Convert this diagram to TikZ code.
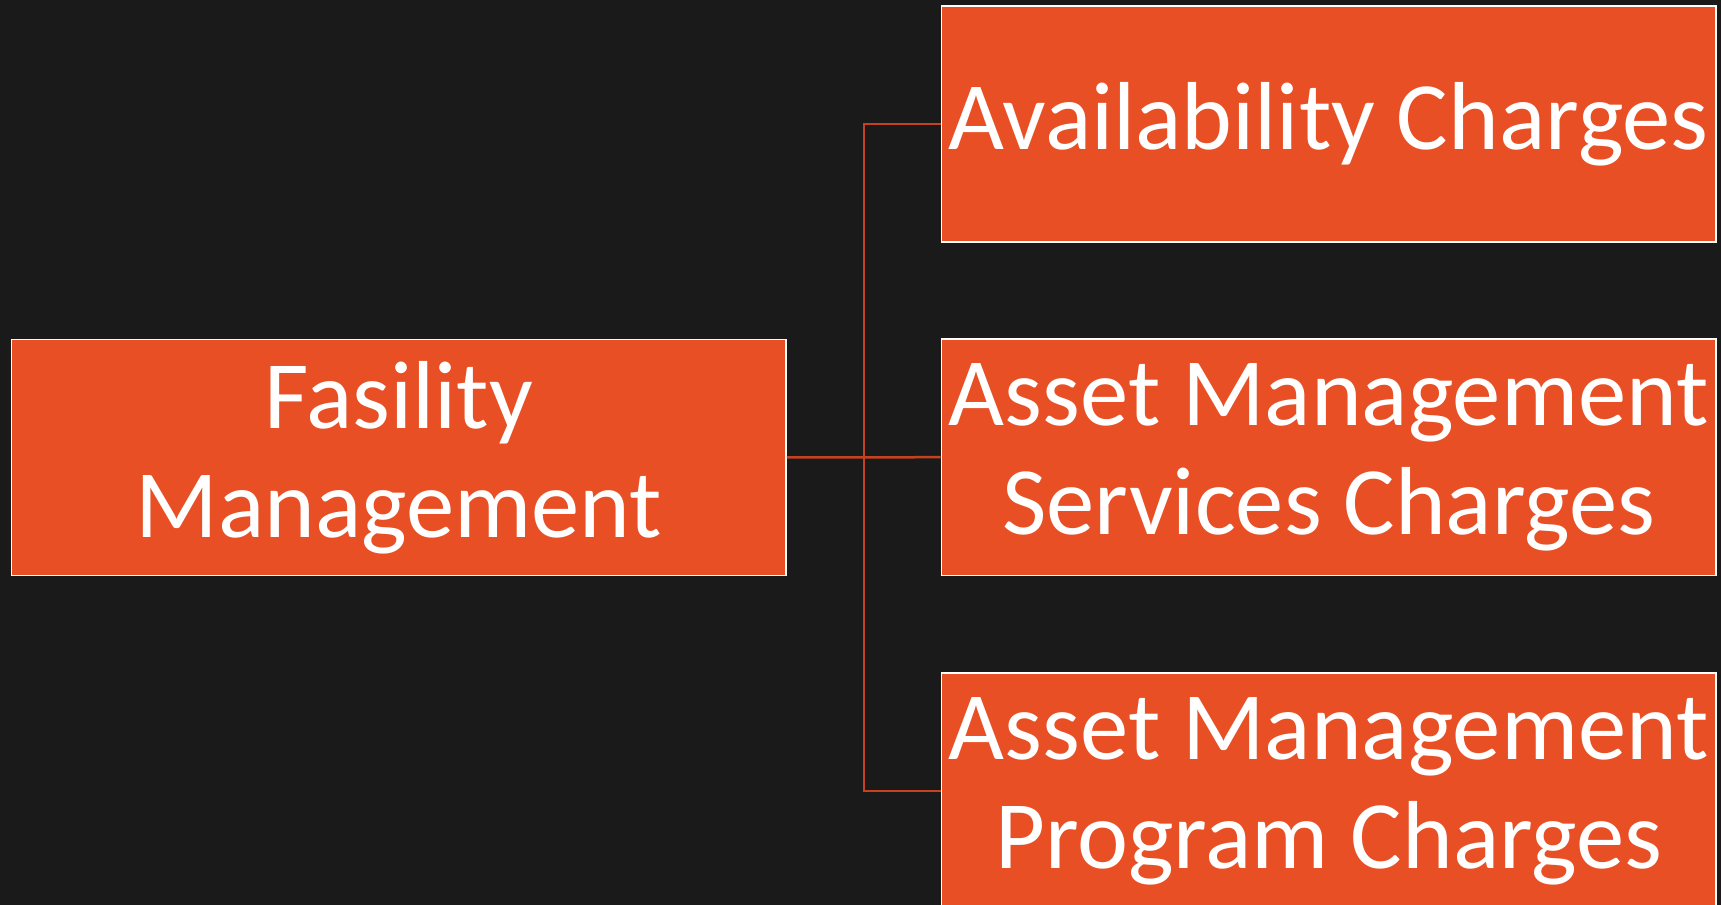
\documentclass[tikz,border=0pt]{standalone}
\usepackage{fontspec}
\setmainfont{Carlito}
\usetikzlibrary{calc}
\definecolor{slidebg}{RGB}{26,26,26}
\definecolor{boxfill}{RGB}{232,79,36}
\definecolor{linkcol}{RGB}{196,66,32}
\tikzset{
  box/.style={draw=white, line width=0.03cm, fill=boxfill, text=white,
    minimum width=15.5cm, minimum height=4.73cm, inner sep=0pt, align=center,
    font=\fontsize{55}{62}\selectfont},
  link/.style={draw=linkcol, line width=0.05cm}
}
\begin{document}
\begin{tikzpicture}[x=0.02cm, y=-0.02cm]
			%%%%% background %%%%%
			\fill[slidebg] (0, 0) rectangle (1721, 905);
			\useasboundingbox (0, 0) rectangle (1721, 905);
			
			%%%%% boxes %%%%%
			\node[box] (fm) at (398.8, 457.5) {Fasility\\Management};
			\node[box] (ac) at (1328.7, 124) {Availability Charges};
			\node[box] (ams) at (1328.7, 457.2) {Asset Management\\Services Charges};
			\node[box] (amp) at (1328.7, 791) {Asset Management\\Program Charges};
			
			%%%%% connectors %%%%%
			\coordinate (split) at ($(fm.east)!0.5!(ams.west)$);
			\draw[link] (fm.east) -- (ams.west);
			\draw[link] (ac.west) -| (split) |- (amp.west);
\end{tikzpicture}
\end{document}
